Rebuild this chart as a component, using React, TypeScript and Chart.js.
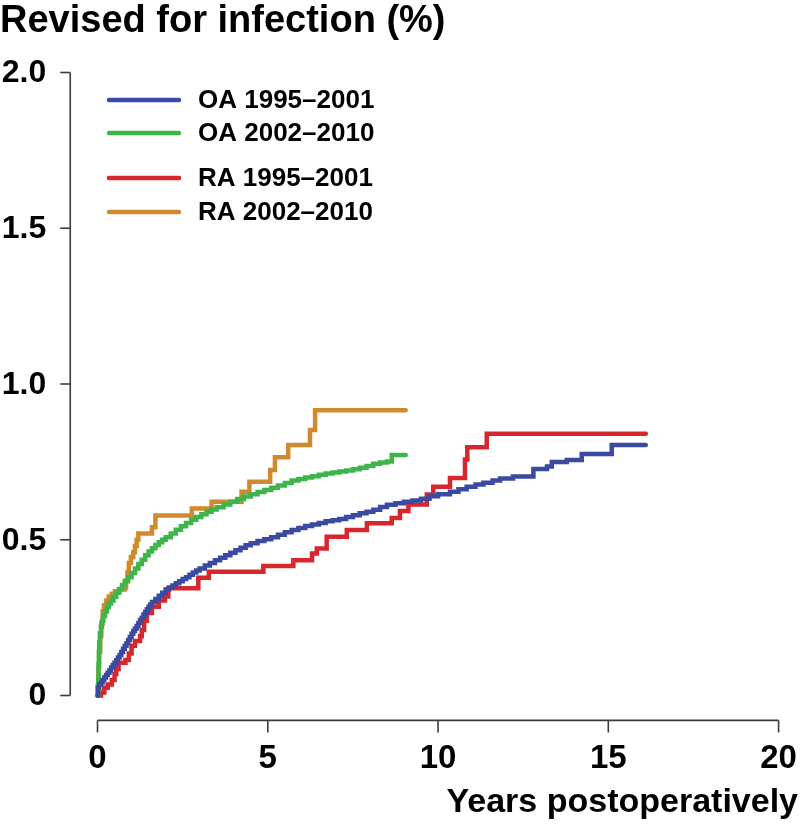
import React, { useEffect, useRef } from "react";
import { Chart, registerables } from "chart.js";

Chart.register(...registerables);

// ---- data (years postoperatively, revised for infection %) ----
const seriesLabels = ["OA 1995–2001", "OA 2002–2010", "RA 1995–2001", "RA 2002–2010"];
const seriesColors = ["#3a4aa0", "#3db54a", "#d7262c", "#d08a2e"];

const oa1995: [number, number][] = [
  [0, 0], [0.01, 0.025], [0.05, 0.035], [0.1, 0.042], [0.15, 0.05], [0.2, 0.058], [0.25, 0.066],
  [0.3, 0.073], [0.35, 0.08], [0.4, 0.09], [0.45, 0.098], [0.5, 0.105], [0.55, 0.113], [0.6, 0.122],
  [0.65, 0.13], [0.7, 0.14], [0.75, 0.15], [0.8, 0.16], [0.85, 0.168], [0.9, 0.178], [0.95, 0.188],
  [1.0, 0.198], [1.05, 0.207], [1.1, 0.215], [1.15, 0.223], [1.2, 0.233], [1.25, 0.242], [1.3, 0.25],
  [1.35, 0.26], [1.4, 0.268], [1.45, 0.277], [1.5, 0.285], [1.55, 0.292], [1.6, 0.3], [1.7, 0.31],
  [1.8, 0.32], [1.9, 0.33], [2.0, 0.34], [2.1, 0.347], [2.2, 0.353], [2.3, 0.36], [2.4, 0.367],
  [2.5, 0.374], [2.6, 0.38], [2.7, 0.388], [2.8, 0.395], [2.9, 0.401], [3.0, 0.408], [3.15, 0.417],
  [3.3, 0.425], [3.45, 0.434], [3.6, 0.442], [3.75, 0.45], [3.9, 0.458], [4.05, 0.466], [4.2, 0.474],
  [4.35, 0.482], [4.5, 0.489], [4.7, 0.496], [4.9, 0.502], [5.1, 0.508], [5.3, 0.516], [5.5, 0.524],
  [5.7, 0.531], [5.9, 0.538], [6.1, 0.544], [6.3, 0.549], [6.5, 0.554], [6.7, 0.559], [6.9, 0.563],
  [7.1, 0.567], [7.3, 0.573], [7.5, 0.579], [7.7, 0.585], [7.9, 0.59], [8.1, 0.596], [8.3, 0.605],
  [8.5, 0.612], [8.75, 0.617], [9.0, 0.622], [9.25, 0.626], [9.5, 0.632], [9.75, 0.64], [10.0, 0.646],
  [10.35, 0.654], [10.6, 0.662], [10.84, 0.67], [11.1, 0.677], [11.33, 0.683], [11.6, 0.69],
  [11.82, 0.697], [12.2, 0.703], [12.8, 0.727], [13.2, 0.735], [13.34, 0.75], [13.78, 0.756],
  [14.22, 0.775], [15.1, 0.804], [16.1, 0.804],
];

const oa2002: [number, number][] = [
  [0, 0], [0.02, 0.05], [0.03, 0.1], [0.04, 0.14], [0.05, 0.17], [0.07, 0.2], [0.1, 0.22],
  [0.13, 0.24], [0.17, 0.255], [0.22, 0.27], [0.27, 0.283], [0.33, 0.295], [0.4, 0.305],
  [0.47, 0.317], [0.55, 0.33], [0.63, 0.342], [0.72, 0.355], [0.8, 0.367], [0.9, 0.38], [1.0, 0.393],
  [1.1, 0.408], [1.2, 0.422], [1.3, 0.436], [1.4, 0.45], [1.5, 0.462], [1.6, 0.473], [1.7, 0.483],
  [1.8, 0.492], [1.9, 0.5], [2.0, 0.508], [2.15, 0.52], [2.3, 0.532], [2.45, 0.543], [2.6, 0.554],
  [2.75, 0.564], [2.9, 0.573], [3.05, 0.582], [3.2, 0.59], [3.35, 0.597], [3.5, 0.604], [3.7, 0.613],
  [3.9, 0.622], [4.1, 0.631], [4.3, 0.639], [4.5, 0.646], [4.7, 0.653], [4.9, 0.66], [5.1, 0.667],
  [5.3, 0.674], [5.5, 0.682], [5.7, 0.69], [5.9, 0.695], [6.1, 0.7], [6.3, 0.704], [6.5, 0.709],
  [6.7, 0.713], [6.9, 0.716], [7.1, 0.719], [7.3, 0.722], [7.5, 0.726], [7.7, 0.731], [7.9, 0.737],
  [8.1, 0.744], [8.3, 0.748], [8.5, 0.751], [8.64, 0.772], [9.05, 0.772],
];

const ra1995: [number, number][] = [
  [0, 0], [0.1, 0.01], [0.2, 0.025], [0.3, 0.035], [0.42, 0.05], [0.5, 0.068], [0.55, 0.085],
  [0.62, 0.105], [0.82, 0.114], [0.92, 0.135], [1.0, 0.16], [1.1, 0.175], [1.25, 0.19], [1.3, 0.21],
  [1.37, 0.24], [1.45, 0.265], [1.6, 0.285], [1.8, 0.305], [1.98, 0.318], [2.08, 0.344],
  [2.96, 0.378], [3.27, 0.397], [4.87, 0.416], [5.75, 0.434], [6.3, 0.456], [6.44, 0.472],
  [6.73, 0.51], [7.32, 0.531], [7.91, 0.553], [8.64, 0.57], [8.88, 0.592], [9.13, 0.613],
  [9.67, 0.645], [9.86, 0.67], [10.35, 0.698], [10.79, 0.758], [10.86, 0.797], [11.43, 0.84],
  [16.1, 0.84],
];

const ra2002: [number, number][] = [
  [0, 0], [0.01, 0.03], [0.03, 0.09], [0.05, 0.14], [0.08, 0.19], [0.11, 0.23], [0.15, 0.27],
  [0.19, 0.29], [0.26, 0.305], [0.33, 0.318], [0.42, 0.327], [0.51, 0.335], [0.65, 0.34],
  [0.8, 0.347], [0.84, 0.37], [0.88, 0.395], [0.92, 0.425], [0.98, 0.445], [1.05, 0.46], [1.1, 0.48],
  [1.15, 0.5], [1.2, 0.52], [1.6, 0.54], [1.7, 0.578], [2.77, 0.6], [3.35, 0.622], [4.23, 0.654],
  [4.46, 0.686], [5.07, 0.724], [5.21, 0.765], [5.6, 0.804], [6.24, 0.852], [6.39, 0.916],
  [9.05, 0.916],
];

const seriesData = [oa1995, oa2002, ra1995, ra2002];

const xTicks = [0, 5, 10, 15, 20];
const xTickLabels = ["0", "5", "10", "15", "20"];
const yTicks = [0, 0.5, 1.0, 1.5, 2.0];
const yTickLabels = ["0", "0.5", "1.0", "1.5", "2.0"];
const xTitle = "Years postoperatively";
const yTitle = "Revised for infection (%)";

const FONT = "'Liberation Sans', Arial, sans-serif";

const rAxesPlugin = {
  id: "rAxes",
  afterDraw(chart: any) {
    const { ctx } = chart;
    const x = chart.scales.x;
    const y = chart.scales.y;
    ctx.save();
    ctx.strokeStyle = "#3a3a3a";
    ctx.fillStyle = "#000";
    ctx.lineWidth = 1.6;

    // y axis (offset like R's 4% extension)
    const axX = x.getPixelForValue(-0.8);
    ctx.beginPath();
    ctx.moveTo(axX, y.getPixelForValue(yTicks[0]));
    ctx.lineTo(axX, y.getPixelForValue(yTicks[yTicks.length - 1]));
    ctx.stroke();
    ctx.font = `bold 32px ${FONT}`;
    ctx.textAlign = "right";
    ctx.textBaseline = "middle";
    yTicks.forEach((v, i) => {
      const py = y.getPixelForValue(v);
      ctx.beginPath();
      ctx.moveTo(axX, py);
      ctx.lineTo(axX - 10, py);
      ctx.stroke();
      ctx.fillText(yTickLabels[i], axX - 24, py + 1);
    });

    // x axis
    const axY = y.getPixelForValue(-0.08);
    ctx.beginPath();
    ctx.moveTo(x.getPixelForValue(xTicks[0]), axY);
    ctx.lineTo(x.getPixelForValue(xTicks[xTicks.length - 1]), axY);
    ctx.stroke();
    ctx.font = `bold 33px ${FONT}`;
    ctx.textAlign = "center";
    ctx.textBaseline = "middle";
    xTicks.forEach((v, i) => {
      const px = x.getPixelForValue(v);
      ctx.beginPath();
      ctx.moveTo(px, axY);
      ctx.lineTo(px, axY + 12);
      ctx.stroke();
      ctx.fillText(xTickLabels[i], px, axY + 38);
    });

    // titles
    ctx.font = `bold 34px ${FONT}`;
    ctx.textAlign = "right";
    ctx.textBaseline = "alphabetic";
    ctx.fillText(xTitle, 798, 812);
    ctx.textAlign = "left";
    ctx.font = `bold 38px ${FONT}`;
    ctx.fillText(yTitle, 0, 32);

    // legend
    const rows = [100, 133, 178, 212];
    ctx.font = `bold 26px ${FONT}`;
    ctx.textBaseline = "middle";
    ctx.lineCap = "round";
    seriesLabels.forEach((lab, i) => {
      ctx.strokeStyle = seriesColors[i];
      ctx.lineWidth = 4.5;
      ctx.beginPath();
      ctx.moveTo(109, rows[i]);
      ctx.lineTo(179, rows[i]);
      ctx.stroke();
      ctx.fillStyle = "#000";
      ctx.fillText(lab, 198, rows[i] + 1);
    });
    ctx.restore();
  },
};

export default function App() {
  const ref = useRef<HTMLCanvasElement>(null);
  useEffect(() => {
    document.body.style.margin = "0";
    const canvas = ref.current!;
    const chart = new Chart(canvas, {
      type: "line",
      data: {
        datasets: seriesData.map((d, i) => ({
          label: seriesLabels[i],
          data: d.map(([t, v]) => ({ x: t, y: v })),
          borderColor: seriesColors[i],
          backgroundColor: seriesColors[i],
          borderWidth: 4.5,
          pointRadius: 0,
          stepped: true,
          fill: false,
          clip: false as any,
          borderCapStyle: "round",
          borderJoinStyle: "miter",
        })),
      },
      options: {
        animation: false,
        responsive: false,
        maintainAspectRatio: false,
        layout: { padding: { left: 97.5, right: 21.4, top: 72.5, bottom: 132.5 } },
        plugins: { legend: { display: false }, tooltip: { enabled: false }, title: { display: false } },
        scales: {
          x: { type: "linear", min: 0, max: 20, display: false },
          y: { type: "linear", min: 0, max: 2, display: false },
        },
      },
      plugins: [rAxesPlugin],
    });
    return () => chart.destroy();
  }, []);
  return (
    <div style={{ width: 800, height: 828, background: "#fff" }}>
      <canvas ref={ref} width={800} height={828} style={{ display: "block" }} />
    </div>
  );
}
